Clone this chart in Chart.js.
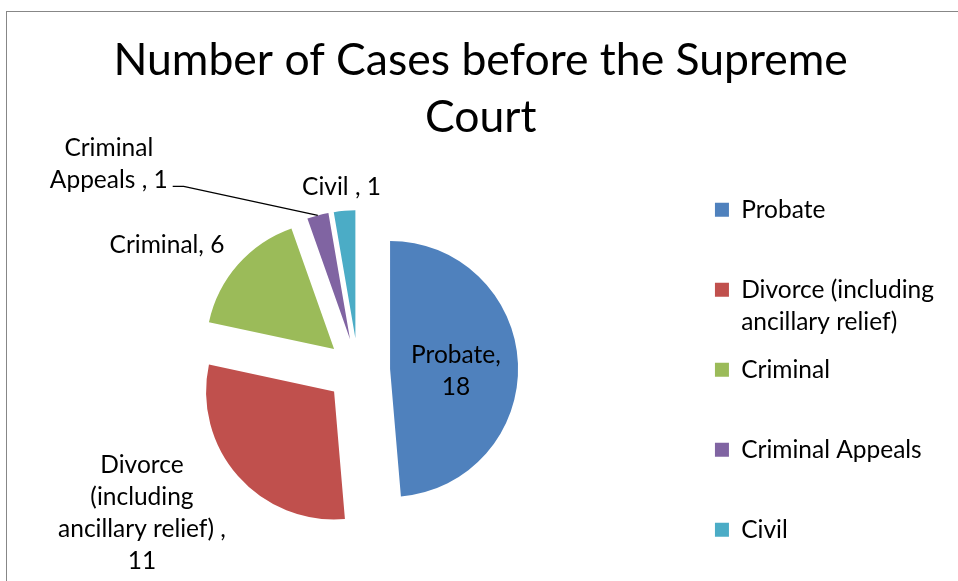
<!DOCTYPE html>
<html>
<head>
<meta charset="utf-8">
<title>Number of Cases before the Supreme Court</title>
<script src="https://cdn.jsdelivr.net/npm/chart.js@4.4.1/dist/chart.umd.min.js"></script>
<style>
  html, body { margin: 0; padding: 0; background: #fff; overflow: hidden; }
  #frame { position: absolute; left: 6px; top: 11px; width: 1000px; height: 700px; border: 1px solid #878787; }
  #chart { position: absolute; left: 0; top: 0; }
</style>
</head>
<body>
<div id="frame"></div>
<canvas id="chart" width="958" height="581"></canvas>
<script>
// --- data --- //
// trailing spaces are in the source category names, they show up in the data labels ("Civil , 1")
const categories = ['Probate', 'Divorce (including ancillary relief) ', 'Criminal', 'Criminal Appeals ', 'Civil '];
const caseCounts = [18, 11, 6, 1, 1];
const sliceColors = ['#4F81BD', '#C0504D', '#9BBB59', '#8064A2', '#4BACC6'];
const chartTitle = ['Number of Cases before the Supreme', 'Court'];

// --- style --- //
const FONT = 'Lato';
const EXPLODE = 32;          // every slice pulled out from the centre
const LABEL_SIZE = 24.5;
const LINE_H = 32;
const LEGEND_WRAP = 205;
// label centre relative to the slice's outer edge point (mid angle), wrap width, leader line
const labelStyle = [
    { dx: -62, dy: 8, wrap: 100, leader: false },
    { dx: -96, dy: 37, wrap: 190, leader: false },
    { dx: -71, dy: -19, wrap: 220, leader: false },
    { dx: -209, dy: -51, wrap: 130, leader: true },
    { dx: -3, dy: -24, wrap: 220, leader: false }
];

function wrapText(ctx, text, maxWidth) {
    const words = text.split(' ').filter(w => w.length);
    const lines = [];
    let line = '';
    words.forEach(word => {
        const test = line ? line + ' ' + word : word;
        if (line && ctx.measureText(test).width > maxWidth) {
            lines.push(line);
            line = word;
        } else {
            line = test;
        }
    });
    if (line) lines.push(line);
    return lines;
}

// pull each arc out along its mid angle (after the controller has placed it)
const explodeSlices = {
    id: 'explodeSlices',
    afterDatasetUpdate(chart, args) {
        args.meta.data.forEach(arc => {
            const mid = (arc.startAngle + arc.endAngle) / 2;
            arc.x += Math.cos(mid) * EXPLODE;
            arc.y += Math.sin(mid) * EXPLODE;
        });
    }
};

// "Category, value" labels, wrapped like the original
const sliceLabels = {
    id: 'sliceLabels',
    afterDatasetsDraw(chart) {
        const ctx = chart.ctx;
        const meta = chart.getDatasetMeta(0);
        ctx.save();
        ctx.font = `${LABEL_SIZE}px ${FONT}`;
        ctx.fillStyle = '#000';
        ctx.strokeStyle = '#000';
        ctx.textAlign = 'center';
        ctx.textBaseline = 'middle';
        meta.data.forEach((arc, i) => {
            const style = labelStyle[i];
            const mid = (arc.startAngle + arc.endAngle) / 2;
            const edgeX = arc.x + Math.cos(mid) * arc.outerRadius;
            const edgeY = arc.y + Math.sin(mid) * arc.outerRadius;
            const lines = wrapText(ctx, categories[i] + ', ' + caseCounts[i], style.wrap);
            const cx = edgeX + style.dx;
            const top = edgeY + style.dy - (lines.length - 1) * LINE_H / 2;
            lines.forEach((line, k) => ctx.fillText(line, cx, top + k * LINE_H));

            if (style.leader) {
                const last = lines[lines.length - 1];
                const sx = cx + ctx.measureText(last).width / 2 + 5;
                const sy = top + (lines.length - 1) * LINE_H + 6;
                ctx.lineWidth = 1.3;
                ctx.beginPath();
                ctx.moveTo(sx, sy);
                ctx.lineTo(sx + 11, sy);
                ctx.lineTo(edgeX, edgeY);
                ctx.stroke();
            }
        });
        ctx.restore();
    }
};

function legendLabels(chart) {
    const items = Chart.overrides.doughnut.plugins.legend.labels.generateLabels(chart);
    const ctx = chart.ctx;
    ctx.save();
    ctx.font = `${LABEL_SIZE}px ${FONT}`;
    items.forEach((item, i) => {
        const lines = wrapText(ctx, item.text, LEGEND_WRAP);
        // two lines per entry (except the last) so the rows keep an even pitch
        if (i < items.length - 1) {
            while (lines.length < 2) lines.push('');
            item.text = lines;
        } else {
            item.text = lines.length > 1 ? lines : lines[0];
        }
    });
    ctx.restore();
    return items;
}

new Chart(document.getElementById('chart'), {
    type: 'pie',
    data: {
        labels: categories,
        datasets: [{
            data: caseCounts,
            backgroundColor: sliceColors,
            borderWidth: 0,
            radius: 128
        }]
    },
    options: {
        responsive: false,
        animation: false,
        layout: { padding: { left: 17.25, right: 14, top: 0, bottom: 22 } },
        plugins: {
            title: {
                display: true,
                text: chartTitle,
                color: '#000',
                font: { family: FONT, size: 44.5, weight: 'normal', lineHeight: '57px' },
                padding: { top: 32, bottom: 35.5 }
            },
            legend: {
                position: 'right',
                align: 'start',
                fullSize: false,
                labels: {
                    color: '#000',
                    font: { family: FONT, size: LABEL_SIZE, lineHeight: LINE_H + 'px' },
                    boxWidth: 14,
                    boxHeight: 14,
                    padding: 16,
                    generateLabels: legendLabels
                }
            },
            tooltip: { enabled: false }
        }
    },
    plugins: [explodeSlices, sliceLabels]
});
</script>
</body>
</html>
